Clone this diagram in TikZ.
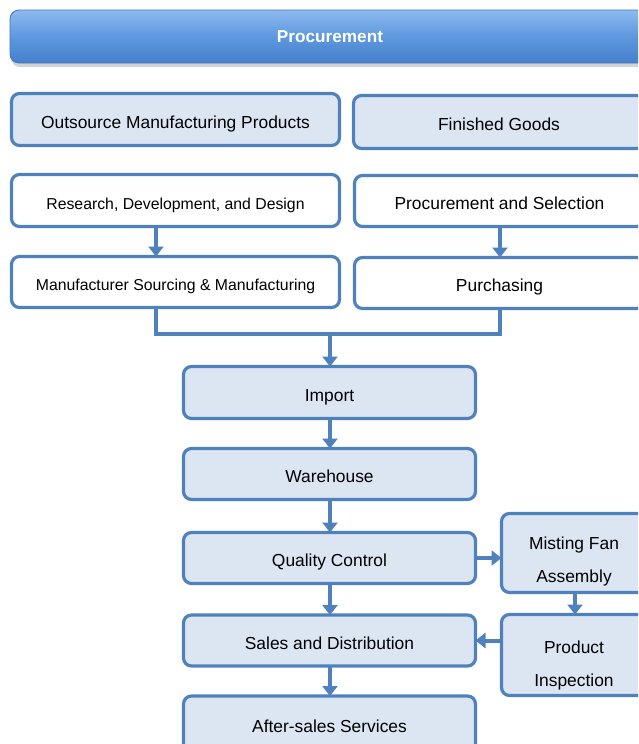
\documentclass[tikz,border=0pt]{standalone}
\usepackage{fontspec}
\setmainfont{Liberation Sans}
\usetikzlibrary{arrows.meta,shadows}
\definecolor{bordc}{HTML}{4F81BD}
\definecolor{fillc}{HTML}{DCE6F2}
\definecolor{hdrtop}{HTML}{8DBAEE}
\definecolor{hdrmid}{HTML}{5E98DE}
\definecolor{hdrbot}{HTML}{4580CC}
\definecolor{hdredge}{HTML}{4474B8}
\tikzset{
  every node/.style={inner sep=0pt, outer sep=0pt},
  boxbase/.style={draw=bordc, line width=3.2pt, rounded corners=8pt, text=black,
    text height=17pt, text depth=0pt,
    font=\fontsize{17.4}{20}\selectfont},
  bluebox/.style={boxbase, fill=fillc},
  whitebox/.style={boxbase, fill=white},
  smalltext/.style={font=\fontsize{15.8}{18}\selectfont},
  plain/.style={text=black, align=center, font=\fontsize{17.4}{33}\selectfont},
  conn/.style={draw=bordc, line width=4pt},
  arr/.style={conn, -{Triangle[width=15pt,length=10pt]}},
}
\begin{document}
\begin{tikzpicture}[x=1pt,y=-1pt]
\useasboundingbox (0,0) rectangle (638,744);
\clip (0,0) rectangle (638,744);
% header
\node[draw=hdredge, line width=0.8pt, rounded corners=9pt, top color=hdrtop, bottom color=hdrbot, middle color=hdrmid,
  minimum width=640pt, minimum height=53pt, text=white, font=\bfseries\fontsize{17.2}{20}\selectfont,
  drop shadow={opacity=0.35, shadow xshift=1pt, shadow yshift=-4pt}]
  (hdr) at (330,36.5) {Procurement};
% top row
\node[bluebox, minimum width=328pt, minimum height=52pt] (osm) at (175.5,119.5) {Outsource Manufacturing Products};
\node[bluebox, minimum width=291pt, minimum height=53pt] (fg) at (499,122) {Finished Goods};
\node[whitebox, smalltext, minimum width=328pt, minimum height=52pt] (rdd) at (175.5,200.5) {Research, Development, and Design};
\node[whitebox, minimum width=290pt, minimum height=51pt] (ps) at (499.5,201) {Procurement and Selection};
\node[whitebox, smalltext, minimum width=328pt, minimum height=51pt] (msm) at (175.5,282) {Manufacturer Sourcing \& Manufacturing};
\node[whitebox, minimum width=290pt, minimum height=51pt] (pur) at (499.5,283) {Purchasing};
% main column
\node[bluebox, minimum width=292pt, minimum height=52pt] (imp) at (329.5,392.5) {Import};
\node[bluebox, minimum width=292pt, minimum height=51pt] (wh) at (329.5,474) {Warehouse};
\node[bluebox, minimum width=292pt, minimum height=51pt] (qc) at (329.5,558) {Quality Control};
\node[bluebox, minimum width=292pt, minimum height=51pt] (sd) at (329.5,640.5) {Sales and Distribution};
\node[bluebox, minimum width=292pt, minimum height=56pt] (as) at (329.5,724) {After-sales Services};
% right column
\node[bluebox, minimum width=145pt, minimum height=79pt] (mfa) at (574,553) {};
\node[plain] (mfat) at (574,561.5) {Misting Fan\\Assembly};
\node[bluebox, minimum width=145pt, minimum height=81pt] (pi) at (574,655) {};
\node[plain] (pit) at (574,665) {Product\\Inspection};
% coordinates
\coordinate (lx) at (156,0);
\coordinate (rx) at (500,0);
\coordinate (mj) at (330,334);
\coordinate (ax) at (575,0);
% connectors
\draw[arr] (rdd.south -| lx) -- (msm.north -| lx);
\draw[arr] (ps.south -| rx) -- (pur.north -| rx);
\draw[conn] (msm.south -| lx) |- (mj) -| (pur.south -| rx);
\draw[arr] (mj) -- (imp.north -| mj);
\draw[arr] (imp.south -| mj) -- (wh.north -| mj);
\draw[arr] (wh.south -| mj) -- (qc.north -| mj);
\draw[arr] (qc.south -| mj) -- (sd.north -| mj);
\draw[arr] (sd.south -| mj) -- (as.north -| mj);
\draw[arr] (qc.east) -- (qc.east -| mfa.west);
\draw[arr] (mfa.south -| ax) -- (pi.north -| ax);
\draw[arr] (pi.west |- sd.east) -- (sd.east);
\end{tikzpicture}
\end{document}
